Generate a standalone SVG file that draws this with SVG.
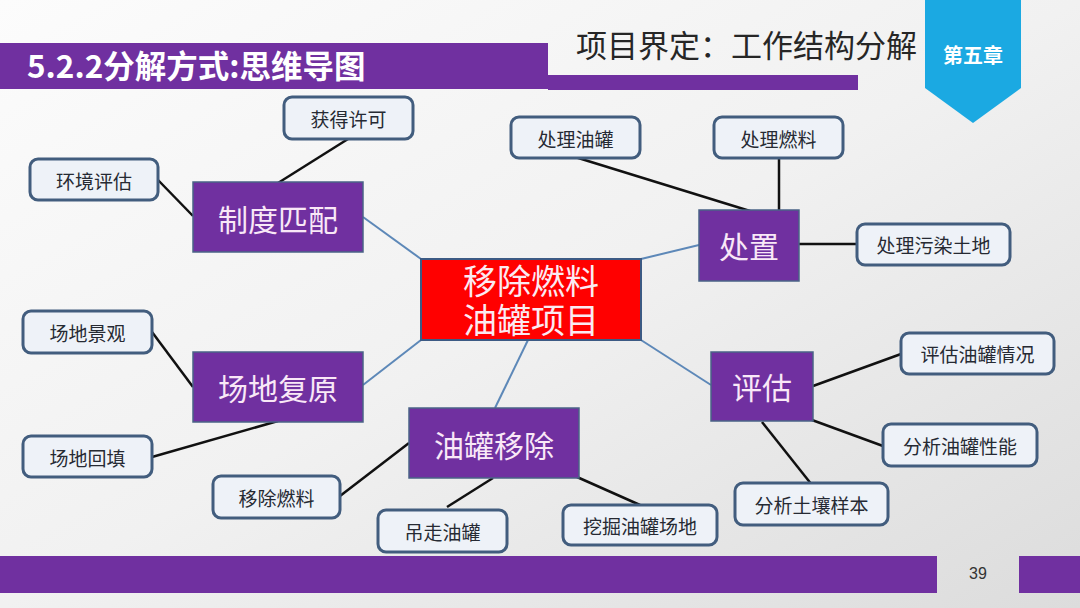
<svg xmlns="http://www.w3.org/2000/svg" width="1080" height="608" viewBox="0 0 1080 608">
<defs>
<linearGradient id="bg" x1="0" y1="0" x2="1" y2="1">
<stop offset="0" stop-color="#fcfcfc"/>
<stop offset="0.5" stop-color="#f1f1f1"/>
<stop offset="1" stop-color="#dcdcdc"/>
</linearGradient>
<style>
.cjk{font-family:"Noto Sans CJK SC","Noto Sans",sans-serif;}
.main{fill:#7030a0;stroke:#4a6386;stroke-width:1.5;}
.mt{fill:#f9e8f7;font-size:30px;text-anchor:middle;dominant-baseline:central;}
.leaf{fill:#eef2f8;stroke:#425d7e;stroke-width:3;}
.lt{fill:#262a33;font-size:19px;text-anchor:middle;dominant-baseline:central;}
.blk{stroke:#111;stroke-width:2.5;fill:none;}
.blu{stroke:#5d88b8;stroke-width:2;fill:none;}
</style>
</defs>
<rect width="1080" height="608" fill="url(#bg)"/>
<g id="header">
<rect x="0" y="43" width="548" height="46" fill="#7030a0"/>
<rect x="548" y="75" width="310" height="15" fill="#7030a0"/>
<text x="27" y="78" class="cjk" font-size="31.5" font-weight="bold" fill="#ffffff">5.2.2分解方式:思维导图</text>
<text x="576" y="57" class="cjk" font-size="31" fill="#262626">项目界定：工作结构分解</text>
<polygon points="925,0 1021,0 1021,88 973,123 925,88" fill="#1ba9e2"/>
<text x="973" y="54" class="cjk" font-size="20" font-weight="bold" fill="#ffffff" text-anchor="middle" dominant-baseline="central">第五章</text>
</g>
<g id="footer">
<rect x="0" y="556" width="937" height="37" fill="#7030a0"/>
<rect x="1019" y="556" width="61" height="37" fill="#7030a0"/>
<text x="978" y="579" font-family="Liberation Sans, Arial, sans-serif" font-size="16" fill="#333" text-anchor="middle">39</text>
</g>
<g id="connectors">
<line class="blu" x1="363" y1="217" x2="421" y2="259"/>
<line class="blu" x1="363" y1="385" x2="421" y2="340"/>
<line class="blu" x1="699" y1="245" x2="641" y2="259"/>
<line class="blu" x1="711" y1="385" x2="641" y2="340"/>
<line class="blu" x1="528" y1="340" x2="495" y2="408"/>
<line class="blk" x1="158" y1="180" x2="193" y2="216"/>
<line class="blk" x1="348" y1="139" x2="278" y2="183"/>
<line class="blk" x1="152" y1="332" x2="193" y2="387"/>
<line class="blk" x1="152" y1="457" x2="278" y2="421"/>
<line class="blk" x1="340" y1="496" x2="409" y2="443"/>
<line class="blk" x1="493" y1="478" x2="447" y2="507"/>
<line class="blk" x1="577" y1="477" x2="640" y2="505"/>
<line class="blk" x1="575" y1="157" x2="750" y2="211"/>
<line class="blk" x1="779" y1="158" x2="779" y2="211"/>
<line class="blk" x1="799" y1="244" x2="857" y2="244"/>
<line class="blk" x1="813" y1="386" x2="901" y2="354"/>
<line class="blk" x1="812" y1="420" x2="883" y2="446"/>
<line class="blk" x1="762" y1="422" x2="812" y2="485"/>
</g>
<g id="center">
<rect x="421" y="259" width="220" height="81" fill="#ff0000" stroke="#3c5a84" stroke-width="2"/>
<text class="cjk" font-size="34" fill="#fbeaf2" text-anchor="middle"><tspan x="531" y="294">移除燃料</tspan><tspan x="531" y="333">油罐项目</tspan></text>
</g>
<g id="n-zhidu"><rect class="main" x="193" y="182" width="170" height="70"/><text class="cjk mt" x="278" y="218">制度匹配</text></g>
<g id="n-changdi"><rect class="main" x="193" y="352" width="170" height="70"/><text class="cjk mt" x="278" y="387">场地复原</text></g>
<g id="n-youguan"><rect class="main" x="409" y="408" width="170" height="70"/><text class="cjk mt" x="494" y="444">油罐移除</text></g>
<g id="n-chuzhi"><rect class="main" x="699" y="210" width="100" height="71"/><text class="cjk mt" x="749" y="245">处置</text></g>
<g id="n-pinggu"><rect class="main" x="711" y="352" width="102" height="69"/><text class="cjk mt" x="762" y="386">评估</text></g>
<g id="l-huode"><rect class="leaf" x="284" y="97" width="129" height="42" rx="8"/><text class="cjk lt" x="348.5" y="118">获得许可</text></g>
<g id="l-huanjing"><rect class="leaf" x="30" y="159" width="128" height="41" rx="8"/><text class="cjk lt" x="94" y="180">环境评估</text></g>
<g id="l-jingguan"><rect class="leaf" x="23" y="311" width="129" height="42" rx="8"/><text class="cjk lt" x="87.5" y="332">场地景观</text></g>
<g id="l-huitian"><rect class="leaf" x="23" y="436" width="129" height="41" rx="8"/><text class="cjk lt" x="87.5" y="457">场地回填</text></g>
<g id="l-yichu"><rect class="leaf" x="213" y="476" width="127" height="42" rx="8"/><text class="cjk lt" x="276.5" y="497">移除燃料</text></g>
<g id="l-diaozou"><rect class="leaf" x="378" y="510" width="129" height="42" rx="8"/><text class="cjk lt" x="442.5" y="531">吊走油罐</text></g>
<g id="l-wajue"><rect class="leaf" x="563" y="505" width="154" height="40" rx="8"/><text class="cjk lt" x="640" y="525">挖掘油罐场地</text></g>
<g id="l-youguan"><rect class="leaf" x="511" y="117" width="129" height="41" rx="8"/><text class="cjk lt" x="575.5" y="138">处理油罐</text></g>
<g id="l-ranliao"><rect class="leaf" x="714" y="117" width="129" height="41" rx="8"/><text class="cjk lt" x="778.5" y="138">处理燃料</text></g>
<g id="l-wuran"><rect class="leaf" x="857" y="224" width="153" height="41" rx="8"/><text class="cjk lt" x="933.5" y="244.5">处理污染土地</text></g>
<g id="l-qingkuang"><rect class="leaf" x="901" y="333" width="153" height="41" rx="8"/><text class="cjk lt" x="977.5" y="353.5">评估油罐情况</text></g>
<g id="l-xingneng"><rect class="leaf" x="883" y="424" width="154" height="42" rx="8"/><text class="cjk lt" x="960" y="445">分析油罐性能</text></g>
<g id="l-turang"><rect class="leaf" x="735" y="483" width="153" height="42" rx="8"/><text class="cjk lt" x="811.5" y="504">分析土壤样本</text></g>
</svg>
